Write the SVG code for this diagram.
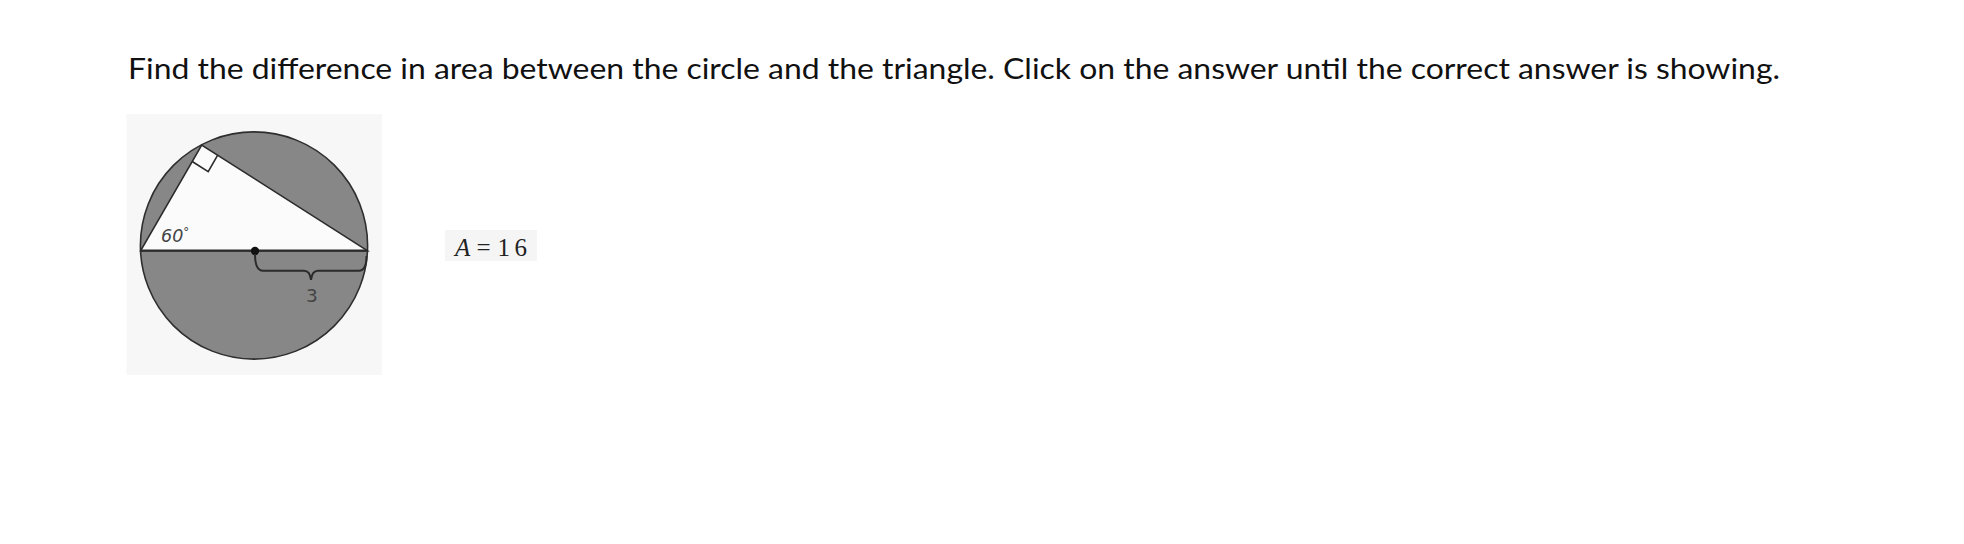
<svg xmlns="http://www.w3.org/2000/svg" width="1964" height="544" viewBox="0 0 1964 544">
  <style>
    .q { font-family: "Lato", "Liberation Sans", sans-serif; font-size: 29px; fill: #111; }
    .lbl { font-family: "DejaVu Sans", "Liberation Sans", sans-serif; fill: #444; }
    .ink { stroke: #2b2b2b; fill: none; }
    .ans { font-family: "Liberation Serif", "Times New Roman", serif; font-size: 25px; fill: #222; }
  </style>
  <rect width="1964" height="544" fill="#ffffff"/>
  <text id="question" class="q" x="128" y="79" textLength="1652" lengthAdjust="spacingAndGlyphs">Find the difference in area between the circle and the triangle. Click on the answer until the correct answer is showing.</text>

  <g id="figure">
    <rect x="126.5" y="114" width="255.5" height="261" fill="#f7f7f7"/>
    <circle cx="254" cy="245.5" r="113.6" fill="#878787" stroke="#2e2e2e" stroke-width="1.6"/>
    <polygon points="140.7,250.7 201.7,145 367.3,250.7" fill="#fbfbfb" stroke="#2b2b2b" stroke-width="1.6" stroke-linejoin="miter"/>
    <polyline class="ink" stroke-width="1.6" points="217.7,155.2 208.2,171.7 192.2,161.5"/>
    <line class="ink" x1="140.7" y1="250.7" x2="367.3" y2="250.7" stroke-width="2.2"/>
    <circle cx="255" cy="251" r="4.2" fill="#111"/>
    <path class="ink" stroke-width="2" d="M255,254 Q255,270.7 263,270.7 L304,270.7 Q310,270.7 311,280 Q312,270.7 318,270.7 L359,270.7 Q366.5,270.7 366.5,256"/>
    <text class="lbl" x="161" y="242.3" font-size="17.5" font-style="italic">60<tspan font-size="12" dy="-6">°</tspan></text>
    <text class="lbl" x="306" y="301.7" font-size="18.5">3</text>
  </g>

  <g id="answer">
    <rect x="445" y="230" width="92" height="31" fill="#f5f5f5"/>
    <text class="ans" y="256"><tspan x="455" font-style="italic">A</tspan><tspan x="476.5">=</tspan><tspan x="497.5">1</tspan><tspan x="514.5">6</tspan></text>
  </g>
</svg>
